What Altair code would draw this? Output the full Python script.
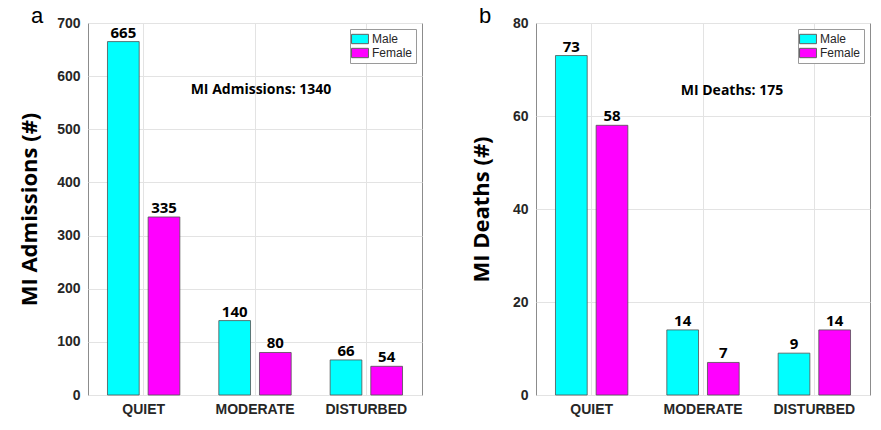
import altair as alt
import pandas as pd

categories = ["QUIET", "MODERATE", "DISTURBED"]
genders = ["Male", "Female"]
colors = ["#00FFFF", "#FF00FF"]

admissions_male = [665, 140, 66]
admissions_female = [335, 80, 54]
deaths_male = [73, 14, 9]
deaths_female = [58, 7, 14]

W, H = 334, 372


def panel(male, female, ymax, ystep, ytitle, title_pad, note, note_x, note_y, letter, letter_x):
    df = pd.DataFrame({
        "category": categories * 2,
        "gender": ["Male"] * 3 + ["Female"] * 3,
        "value": male + female,
    })
    x = alt.X("category:N", sort=categories,
              scale=alt.Scale(paddingInner=0.35, paddingOuter=0.175),
              axis=alt.Axis(title=None, labelAngle=0, grid=True, ticks=False,
                            bandPosition=0.5, labelPadding=7, domain=False))
    xo = alt.XOffset("gender:N", sort=genders,
                     scale=alt.Scale(paddingInner=0.22, paddingOuter=0))
    y = alt.Y("value:Q", scale=alt.Scale(domain=[0, ymax], nice=False),
              axis=alt.Axis(values=list(range(0, ymax + 1, ystep)), title=ytitle,
                            ticks=False, labelPadding=8, titlePadding=title_pad, domain=False))
    bars = alt.Chart(df).mark_bar(stroke="#505050", strokeWidth=0.8).encode(
        x=x, xOffset=xo, y=y,
        color=alt.Color("gender:N", sort=genders,
                        scale=alt.Scale(domain=genders, range=colors),
                        legend=alt.Legend(title=None, orient="top-right", offset=6)),
    )
    labels = alt.Chart(df).mark_text(baseline="bottom", dy=-1, font="Open Sans",
                                     fontWeight="bold", fontSize=15, color="black").encode(
        x=x, xOffset=xo, y=y, text="value:Q")
    note_layer = alt.Chart(pd.DataFrame({"t": [note]})).mark_text(
        font="Open Sans", fontWeight="bold", fontSize=14, color="black",
        align="center", baseline="middle").encode(
        x=alt.value(note_x), y=alt.value(note_y), text="t:N")
    letter_layer = alt.Chart(pd.DataFrame({"t": [letter]})).mark_text(
        font="Liberation Sans", fontSize=22, color="black",
        align="center", baseline="alphabetic").encode(
        x=alt.value(letter_x), y=alt.value(0), text="t:N")
    return alt.layer(bars, labels, note_layer, letter_layer).properties(width=W, height=H)


left = panel(admissions_male, admissions_female, 700, 100, "MI Admissions (#)", 15,
             "MI Admissions: 1340", 173, 67, "a", -51)
right = panel(deaths_male, deaths_female, 80, 20, "MI Deaths (#)", 19,
              "MI Deaths: 175", 196, 68, "b", -51)

chart = alt.hconcat(left, right, spacing=46).resolve_legend(
    color="independent"
).properties(
    padding={"top": -4, "left": 10, "right": 2, "bottom": 0}
).configure_view(
    stroke="#8c8c8c", strokeWidth=1
).configure_axis(
    labelFont="Liberation Sans", labelFontWeight="bold", labelFontSize=14,
    labelColor="#262626", titleFont="Open Sans", titleFontWeight="bold",
    titleFontSize=22, titleColor="black", gridColor="#e3e3e3", gridWidth=1,
).configure_legend(
    labelFont="Liberation Sans", labelFontSize=12, labelColor="#262626",
    symbolType="M-1.3,-0.72H1.3V0.72H-1.3Z", symbolSize=169, symbolStrokeColor="#606060",
    symbolStrokeWidth=1, symbolOpacity=1,
    strokeColor="#9a9a9a", fillColor="white", padding=3, rowPadding=0,
    labelOffset=5, cornerRadius=0,
)

chart.save("out.html", embed_options={"renderer": "svg", "actions": False})
